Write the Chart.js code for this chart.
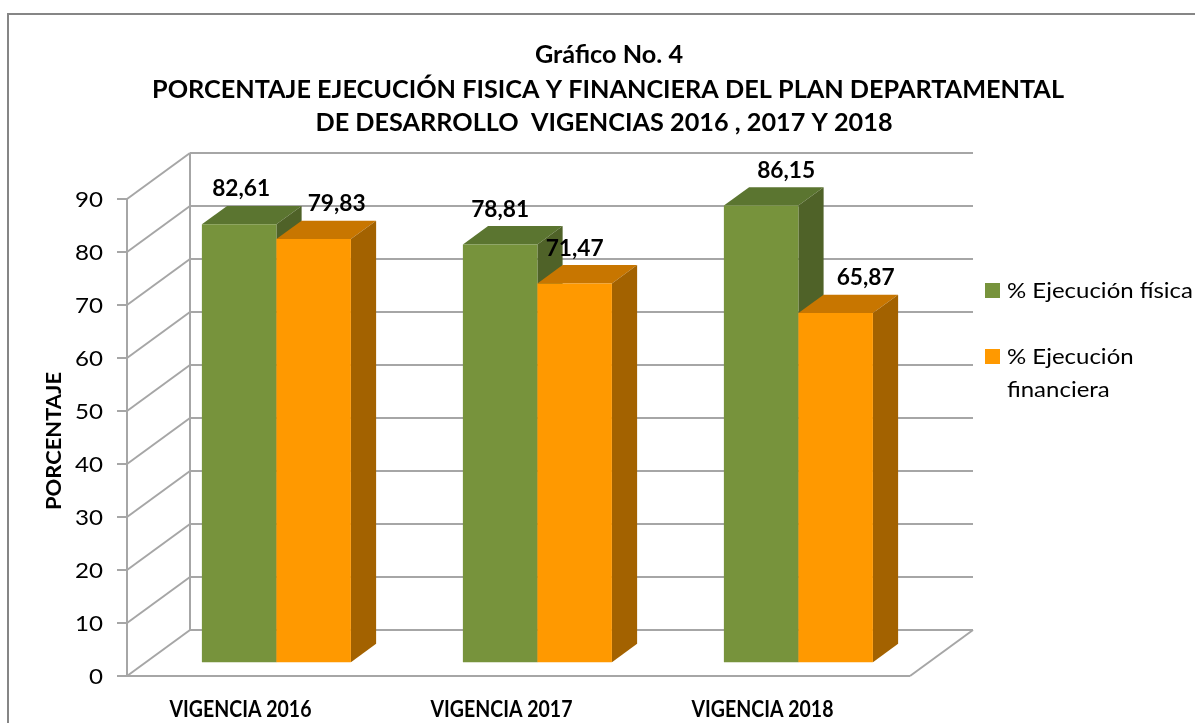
<!DOCTYPE html>
<html>
<head>
<meta charset="utf-8">
<script src="https://cdn.jsdelivr.net/npm/chart.js@4.4.0/dist/chart.umd.min.js"></script>
<style>
  html, body { margin: 0; padding: 0; background: #fff; }
  #wrap { width: 1195px; height: 723px; position: relative; }
</style>
</head>
<body>
<div id="wrap"><canvas id="chart" width="1195" height="723"></canvas></div>
<script>
// Chart data
const categories = ['VIGENCIA 2016', 'VIGENCIA 2017', 'VIGENCIA 2018'];
const fisica = [82.61, 78.81, 86.15];
const financiera = [79.83, 71.47, 65.87];
const seriesNames = ['% Ejecución física', '% Ejecución financiera'];
const yTicks = [0, 10, 20, 30, 40, 50, 60, 70, 80, 90];

const titleLines = [
    'Gráfico No. 4',
    'PORCENTAJE EJECUCIÓN FISICA Y FINANCIERA DEL PLAN DEPARTAMENTAL',
    'DE DESARROLLO  VIGENCIAS 2016 , 2017 Y 2018'
];

// colours per series: front, top, side
const faces = [
    { front: '#77933c', top: '#5b7530', side: '#4f6228' },
    { front: '#ff9900', top: '#c87600', side: '#a36200' }
];

// 3D look: depth vector of the floor / walls
const DEPTH_X = 63, DEPTH_Y = -46;
const BAR_D0 = 0.3, BAR_D1 = 0.7;
const FONT = 'Lato, "Open Sans", "DejaVu Sans", sans-serif';
const SQUEEZE = 0.95;

// small label nudges (Excel places the 3D labels a bit irregularly)
const labelShift = [[2, 0, 25], [23, 0, 30]];

function proj(x, y, d) {
    return [x + DEPTH_X * d, y + DEPTH_Y * d];
}

function fmt(v) {
    return v.toFixed(2).replace('.', ',');
}

// horizontal squeeze that makes text fit a width
function squeezeFor(ctx, text, size, weight, width) {
    ctx.font = (weight ? weight + ' ' : '') + size + 'px ' + FONT;
    return width / ctx.measureText(text).width;
}

// draw text at a size, squeezed horizontally (to a width if one is given)
function drawText(ctx, text, x, y, size, weight, opts) {
    opts = opts || {};
    ctx.font = (weight ? weight + ' ' : '') + size + 'px ' + FONT;
    let sx = opts.sx || SQUEEZE;
    if (opts.width) sx = opts.width / ctx.measureText(text).width;
    ctx.save();
    ctx.translate(x, y);
    ctx.scale(sx, 1);
    ctx.textAlign = opts.align || 'center';
    ctx.fillText(text, 0, 0);
    ctx.restore();
    return sx;
}

function poly(ctx, pts, color) {
    ctx.beginPath();
    ctx.moveTo(pts[0][0], pts[0][1]);
    for (let i = 1; i < pts.length; i++) ctx.lineTo(pts[i][0], pts[i][1]);
    ctx.closePath();
    ctx.fillStyle = color;
    ctx.fill();
}

function line(ctx, a, b) {
    ctx.beginPath();
    ctx.moveTo(a[0], a[1]);
    ctx.lineTo(b[0], b[1]);
    ctx.stroke();
}

const box3d = {
    id: 'box3d',
    beforeDatasetsDraw(chart) {
        const ctx = chart.ctx;
        const xs = chart.scales.x, ys = chart.scales.y;
        const left = xs.left, right = xs.right;
        const y0 = ys.getPixelForValue(0);
        const yTop = ys.getPixelForValue(yTicks[yTicks.length - 1]);

        ctx.save();
        ctx.strokeStyle = '#a6a6a6';
        ctx.lineWidth = 2;

        // back wall gridlines and side wall diagonals
        yTicks.forEach(t => {
            const y = ys.getPixelForValue(t);
            line(ctx, proj(left, y, 1), proj(right, y, 1));
            line(ctx, [left, y], proj(left, y, 1));
            line(ctx, [left - 10, y], [left, y]);
        });
        line(ctx, proj(left, y0, 1), proj(left, yTop, 1));
        line(ctx, [left, y0], [left, yTop]);
        // floor front and right edges
        line(ctx, [left, y0], [right, y0]);
        line(ctx, [right, y0], proj(right, y0, 1));

        // bars
        const metas = chart.data.datasets.map((d, i) => chart.getDatasetMeta(i));
        categories.forEach((c, i) => {
            metas.forEach((meta, s) => {
                const el = meta.data[i];
                const p = el.getProps(['x', 'y', 'base', 'width'], true);
                const l = p.x - p.width / 2, r = p.x + p.width / 2;
                const f = faces[s];
                poly(ctx, [proj(l, p.y, BAR_D0), proj(r, p.y, BAR_D0), proj(r, p.y, BAR_D1), proj(l, p.y, BAR_D1)], f.top);
                poly(ctx, [proj(r, p.y, BAR_D0), proj(r, p.y, BAR_D1), proj(r, p.base, BAR_D1), proj(r, p.base, BAR_D0)], f.side);
                poly(ctx, [proj(l, p.y, BAR_D0), proj(r, p.y, BAR_D0), proj(r, p.base, BAR_D0), proj(l, p.base, BAR_D0)], f.front);
            });
        });
        ctx.restore();
        return false;
    },
    afterDraw(chart) {
        const ctx = chart.ctx;
        const xs = chart.scales.x, ys = chart.scales.y;
        ctx.save();

        // outer frame
        ctx.strokeStyle = '#868686';
        ctx.lineWidth = 2;
        ctx.strokeRect(8, 14, 1200, 730);

        ctx.fillStyle = '#000';
        ctx.textBaseline = 'alphabetic';

        // title: second line sets the squeeze for all three
        const tsx = drawText(ctx, titleLines[1], 608, 98, 24, 'bold', { width: 912 });
        drawText(ctx, titleLines[0], 609, 63, 24, 'bold', { sx: tsx });
        drawText(ctx, titleLines[2], 604, 131, 24, 'bold', { sx: tsx });

        // y ticks
        ctx.textBaseline = 'middle';
        const ysx = squeezeFor(ctx, '90', 22, '', 28);
        yTicks.forEach(t => {
            drawText(ctx, String(t), xs.left - 24, ys.getPixelForValue(t) + 1, 22, '', { align: 'right', sx: ysx });
        });

        // y title
        ctx.save();
        ctx.translate(55, 441);
        ctx.rotate(-Math.PI / 2);
        drawText(ctx, 'PORCENTAJE', 0, 0, 20, 'bold', { width: 138 });
        ctx.restore();

        // x labels
        categories.forEach((c, i) => {
            drawText(ctx, c, xs.getPixelForValue(i) - 17, 710, 22, 'bold', { width: 142 });
        });

        // value labels
        chart.data.datasets.forEach((ds, s) => {
            const meta = chart.getDatasetMeta(s);
            meta.data.forEach((el, i) => {
                const top = proj(el.x, el.y, BAR_D0);
                drawText(ctx, fmt(ds.data[i]), top[0] + labelShift[s][i], top[1] - 35, 22, 'bold', { width: 58 });
            });
        });

        // legend
        const legendLines = [['% Ejecución física'], ['% Ejecución', 'financiera']];
        const legendY = [291, 357];
        const lsx = squeezeFor(ctx, legendLines[0][0], 22, '', 186);
        seriesNames.forEach((name, s) => {
            ctx.fillStyle = faces[s].front;
            ctx.fillRect(985, legendY[s] - 8, 15, 15);
            ctx.fillStyle = '#000';
            legendLines[s].forEach((txt, k) => {
                drawText(ctx, txt, 1007, legendY[s] + k * 33, 22, '', { sx: lsx, align: 'left' });
            });
        });
        ctx.restore();
    }
};

new Chart(document.getElementById('chart'), {
    type: 'bar',
    data: {
        labels: categories,
        datasets: [
            { label: seriesNames[0], data: fisica, backgroundColor: faces[0].front },
            { label: seriesNames[1], data: financiera, backgroundColor: faces[1].front }
        ]
    },
    options: {
        responsive: false,
        animation: false,
        devicePixelRatio: 1,
        layout: { padding: { left: 127, right: 285, top: 199, bottom: 47 } },
        datasets: { bar: { categoryPercentage: 0.571, barPercentage: 1 } },
        plugins: {
            legend: { display: false },
            title: { display: false },
            tooltip: { enabled: false }
        },
        scales: {
            x: { display: false, offset: true },
            y: { display: false, min: 0, max: 90 }
        }
    },
    plugins: [box3d]
});
</script>
</body>
</html>
